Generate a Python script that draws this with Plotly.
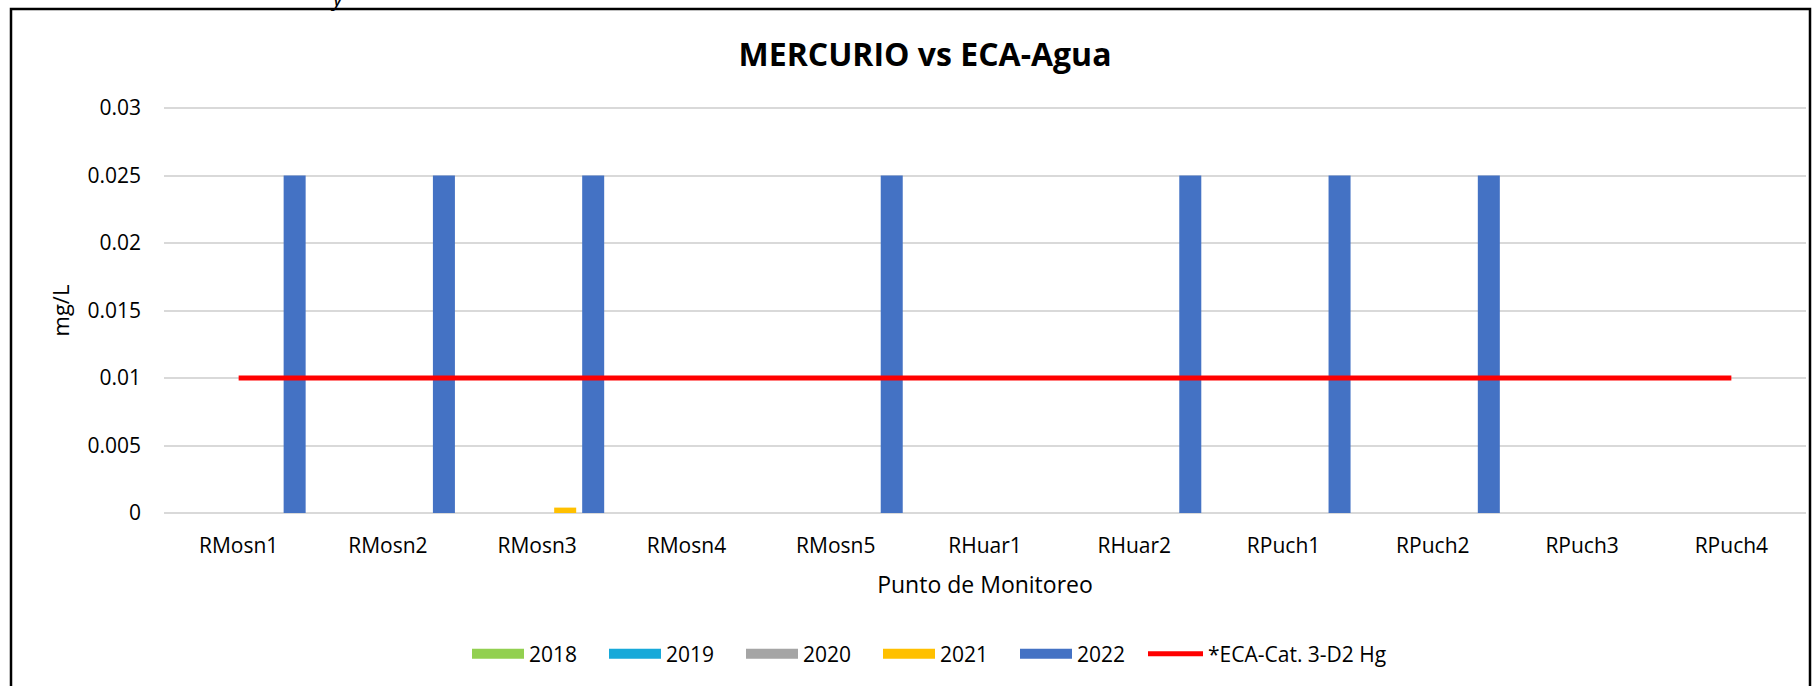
import plotly.graph_objects as go

categories = ["RMosn1", "RMosn2", "RMosn3", "RMosn4", "RMosn5", "RHuar1",
              "RHuar2", "RPuch1", "RPuch2", "RPuch3", "RPuch4"]
years = ["2018", "2019", "2020", "2021", "2022"]
v2018 = [None] * 11
v2019 = [None] * 11
v2020 = [None] * 11
v2021 = [None, None, 0.0004, None, None, None, None, None, None, None, None]
v2022 = [0.025, 0.025, 0.025, None, 0.025, None, 0.025, 0.025, 0.025, None, None]
eca = [0.01] * 11
eca_name = "*ECA-Cat. 3-D2 Hg"
ytick_vals = [0, 0.005, 0.01, 0.015, 0.02, 0.025, 0.03]
ytick_text = ["0", "0.005", "0.01", "0.015", "0.02", "0.025", "0.03"]

colors = ["#92D050", "#17A9D9", "#A5A5A5", "#FFC000", "#4472C4"]
series = [v2018, v2019, v2020, v2021, v2022]

FONT = "Open Sans"
W, H = 1813, 686
L, R, T, B = 164, 7, 106, 171          # plot area 164..1806 x 106..515
PW, PH = W - L - R, H - T - B
E = 0.03 / 405                         # one pixel in data units

def px_x(p):
    return (p - L) / PW

def px_y(p):
    return (H - B - p) / PH

fig = go.Figure()
for name, vals, col in zip(years, series, colors):
    fig.add_trace(go.Bar(x=categories, y=vals, name=name, marker_color=col,
                         marker_line_width=0, showlegend=False))
fig.add_trace(go.Scatter(x=categories, y=eca, name=eca_name, mode="lines",
                         line=dict(color="#FF0000", width=5), showlegend=False))
# legend entries
for name, col in zip(years, colors):
    fig.add_trace(go.Scatter(x=[None], y=[None], name=name, mode="lines",
                             line=dict(color=col, width=13), legend="legend"))
fig.add_trace(go.Scatter(x=[None], y=[None], name=eca_name, mode="lines",
                         line=dict(color="#FF0000", width=5), legend="legend2"))

fig.update_layout(
    width=W, height=H,
    margin=dict(l=L, r=R, t=T, b=B),
    paper_bgcolor="white", plot_bgcolor="white",
    font=dict(family=FONT, size=21, color="#000000"),
    barmode="group", bargap=0.062, bargroupgap=0.214,
    title=dict(text="<b>MERCURIO vs ECA-Agua</b>", x=925 / W, xref="container",
               xanchor="center", y=1 - 55 / H, yanchor="middle",
               font=dict(family=FONT, size=32, color="#000000")),
    legend=dict(orientation="h", x=px_x(467), xanchor="left",
                y=px_y(654), yanchor="middle", itemwidth=52, entrywidth=70,
                font=dict(family=FONT, size=21, color="#000000"),
                bgcolor="rgba(0,0,0,0)"),
    legend2=dict(orientation="h", x=px_x(1143), xanchor="left",
                 y=px_y(654), yanchor="middle", itemwidth=55,
                 font=dict(family=FONT, size=21, color="#000000"),
                 bgcolor="rgba(0,0,0,0)"),
    xaxis=dict(type="category", showgrid=False, showline=False, ticks="",
               automargin=False, ticklabelstandoff=16,
               title=dict(text="Punto de Monitoreo", standoff=18,
                          font=dict(family=FONT, size=23))),
    yaxis=dict(range=[-2 * E, 0.03 + 2 * E], tickvals=ytick_vals, ticktext=ytick_text,
               showgrid=True, gridcolor="#D9D9D9", gridwidth=1.5,
               zeroline=False, showline=False, ticks="", ticklabelstandoff=22,
               automargin=False,
               title=dict(text="mg/L", standoff=11, font=dict(family=FONT, size=22))),
    shapes=[dict(type="rect", xref="paper", yref="paper",
                 x0=px_x(11), x1=px_x(1810), y0=px_y(720), y1=px_y(9),
                 line=dict(color="#000000", width=2.5), fillcolor="rgba(0,0,0,0)",
                 layer="below")],
    annotations=[dict(text="<i>y</i>", xref="paper", yref="paper",
                      x=px_x(337), y=px_y(14), xanchor="center", yanchor="bottom",
                      showarrow=False, font=dict(family=FONT, size=22, color="#000000"))],
)
fig.write_html("out.html", config={"displayModeBar": False},
               post_script="document.body.style.margin='0';"
                           "document.body.style.overflow='hidden';")
